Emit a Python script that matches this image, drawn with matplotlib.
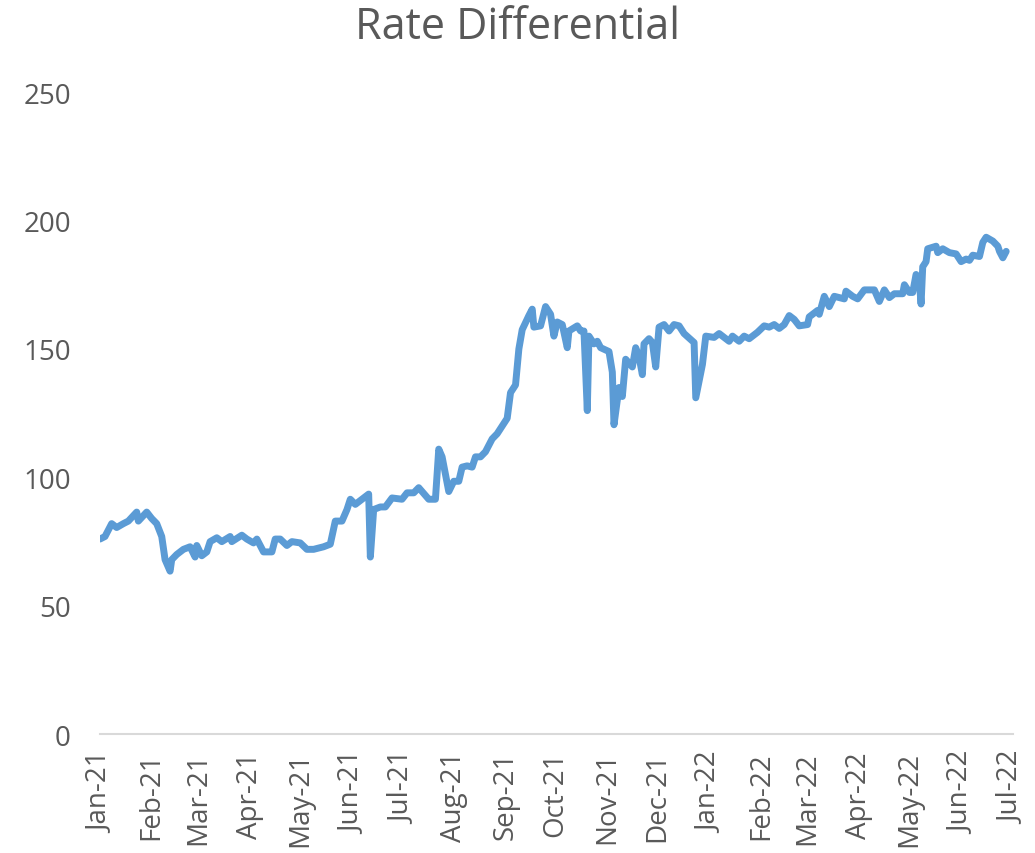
import pandas as pd
import matplotlib
matplotlib.use("Agg")
import matplotlib.pyplot as plt
import matplotlib.dates as mdates

# values
dates = [
    "2021-01-01", "2021-01-04", "2021-01-08", "2021-01-11", "2021-01-15", "2021-01-18",
    "2021-01-23", "2021-01-24", "2021-01-29", "2021-02-01", "2021-02-04", "2021-02-07",
    "2021-02-09", "2021-02-12", "2021-02-13", "2021-02-16", "2021-02-20", "2021-02-24",
    "2021-02-27", "2021-02-28", "2021-03-03", "2021-03-06", "2021-03-08", "2021-03-12",
    "2021-03-15", "2021-03-20", "2021-03-21", "2021-03-27", "2021-03-30", "2021-04-03",
    "2021-04-05", "2021-04-09", "2021-04-14", "2021-04-16", "2021-04-19", "2021-04-23",
    "2021-04-26", "2021-05-01", "2021-05-05", "2021-05-09", "2021-05-15", "2021-05-19",
    "2021-05-22", "2021-05-26", "2021-05-29", "2021-05-31", "2021-06-03", "2021-06-06",
    "2021-06-11", "2021-06-12", "2021-06-14", "2021-06-18", "2021-06-21", "2021-06-25",
    "2021-07-01", "2021-07-04", "2021-07-08", "2021-07-11", "2021-07-17", "2021-07-21",
    "2021-07-23", "2021-07-25", "2021-07-29", "2021-08-01", "2021-08-04", "2021-08-06",
    "2021-08-09", "2021-08-12", "2021-08-14", "2021-08-17", "2021-08-20", "2021-08-24",
    "2021-08-27", "2021-08-29", "2021-09-02", "2021-09-04", "2021-09-07", "2021-09-09",
    "2021-09-11", "2021-09-15", "2021-09-17", "2021-09-18", "2021-09-22", "2021-09-25",
    "2021-09-28", "2021-09-30", "2021-10-02", "2021-10-05", "2021-10-08", "2021-10-09",
    "2021-10-14", "2021-10-16", "2021-10-18", "2021-10-20", "2021-10-21", "2021-10-24",
    "2021-10-26", "2021-10-28", "2021-11-02", "2021-11-04", "2021-11-05", "2021-11-08",
    "2021-11-10", "2021-11-12", "2021-11-16", "2021-11-18", "2021-11-20", "2021-11-22",
    "2021-11-23", "2021-11-26", "2021-11-28", "2021-11-30", "2021-12-02", "2021-12-05",
    "2021-12-08", "2021-12-11", "2021-12-14", "2021-12-17", "2021-12-23", "2021-12-24",
    "2021-12-28", "2021-12-30", "2022-01-04", "2022-01-07", "2022-01-13", "2022-01-15",
    "2022-01-19", "2022-01-22", "2022-01-25", "2022-01-30", "2022-02-03", "2022-02-06",
    "2022-02-09", "2022-02-12", "2022-02-15", "2022-02-18", "2022-02-21", "2022-02-24",
    "2022-03-01", "2022-03-02", "2022-03-07", "2022-03-08", "2022-03-11", "2022-03-14",
    "2022-03-17", "2022-03-23", "2022-03-24", "2022-03-28", "2022-03-31", "2022-04-04",
    "2022-04-10", "2022-04-13", "2022-04-16", "2022-04-19", "2022-04-22", "2022-04-27",
    "2022-04-28", "2022-05-01", "2022-05-03", "2022-05-05", "2022-05-07", "2022-05-08",
    "2022-05-09", "2022-05-11", "2022-05-12", "2022-05-17", "2022-05-18", "2022-05-21",
    "2022-05-25", "2022-05-29", "2022-06-01", "2022-06-04", "2022-06-06", "2022-06-08",
    "2022-06-12", "2022-06-14", "2022-06-16", "2022-06-20", "2022-06-23", "2022-06-24",
    "2022-06-26", "2022-06-28",
]
values = [
    76, 77, 82, 80.5, 82, 83,
    86.5, 83, 86.5, 84, 82, 77,
    68, 63.5, 68, 70, 72, 73,
    69, 73.5, 69.5, 71, 75, 76.5,
    75, 77, 75, 77.5, 76, 74.5,
    76, 71, 71, 76, 76, 73.5,
    75, 74.5, 72, 72, 73, 74,
    83, 83, 87.5, 91.5, 89.5, 91,
    93.5, 69, 87.5, 88.5, 88.5, 92,
    91.5, 94, 94, 96, 91.5, 91.5,
    111, 108, 94.5, 98.5, 98.5, 104,
    104.5, 104, 108, 108, 110, 115,
    117, 119, 123, 133, 136, 150,
    157.5, 163, 165.5, 158.5, 159, 166.5,
    163.5, 155, 160.5, 159.5, 150.5, 157,
    159, 157, 157, 126, 155, 152,
    153, 150.5, 149, 141, 120.5, 135,
    131.5, 146, 143, 150.5, 147, 140,
    152, 154, 152.5, 143, 158.5, 159.5,
    157, 159.5, 159, 156, 152.5, 131,
    144, 155, 154.5, 156, 153, 155,
    153, 155, 154, 156.5, 159, 158.5,
    159.5, 158, 159.5, 163, 161.5, 159,
    159.5, 162.5, 165, 163.5, 170.5, 166.5,
    170.5, 169.5, 172.5, 170.5, 169.5, 173,
    173, 168.5, 173, 170, 171.5, 171.5,
    175, 172, 172, 179, 176, 167.5,
    182, 184, 189, 190, 187.5, 189,
    187.5, 187, 184, 185, 184.5, 186.5,
    186, 191.5, 193.5, 192, 190, 188,
    185.5, 188,
]

x = pd.to_datetime(dates)

plt.rcParams['font.family'] = ['Open Sans', 'DejaVu Sans']
text_color = '#595959'

fig = plt.figure(figsize=(10.35, 8.54), dpi=100)
ax = fig.add_axes([0.0966, 0.139, 0.882, 0.752])

ax.plot(x, values, color='#5B9BD5', linewidth=5, solid_joinstyle='round', solid_capstyle='round')

ax.set_ylim(0, 250)
ax.set_yticks([0, 50, 100, 150, 200, 250])
ax.set_xlim(pd.Timestamp("2021-01-01"), pd.Timestamp("2022-07-02"))
ax.xaxis.set_major_locator(mdates.MonthLocator())
ax.xaxis.set_major_formatter(mdates.DateFormatter('%b-%y'))

for s in ['top', 'right', 'left']:
    ax.spines[s].set_visible(False)
ax.spines['bottom'].set_color('#D9D9D9')
ax.spines['bottom'].set_linewidth(1.5)

ax.tick_params(axis='both', length=0, colors=text_color, labelsize=20)
ax.tick_params(axis='y', pad=21)
ax.tick_params(axis='x', pad=12)
plt.setp(ax.get_xticklabels(), rotation=90, va='top', ha='center')

fig.text(0.5, 0.967, "Rate Differential", ha='center', va='center', fontsize=31, color=text_color)

fig.savefig("out.png", dpi=100)
